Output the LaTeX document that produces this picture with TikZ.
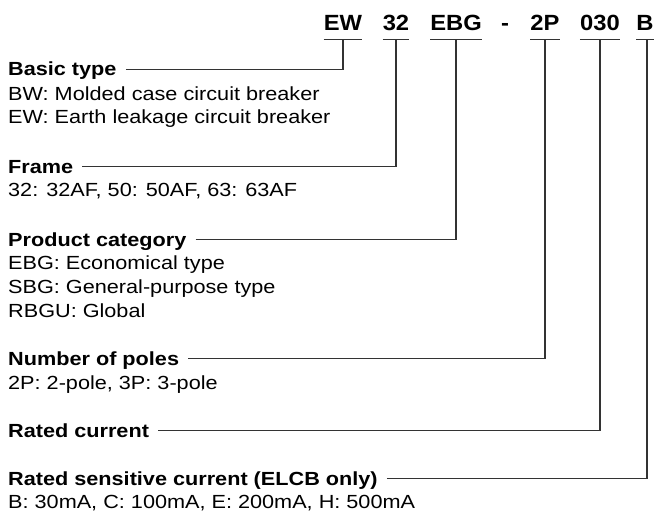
\documentclass[tikz,border=0pt]{standalone}
\usepackage{fontspec}
\setmainfont{Liberation Sans}[FakeStretch=1.14]
\newfontfamily\codefont{Liberation Sans}[FakeStretch=1.08]
\begin{document}
\begin{tikzpicture}[x=1pt,y=-1pt,
    head/.style={font=\fontsize{19}{24}\selectfont\bfseries,anchor=base west,inner sep=0pt,text height=13.5pt,text depth=0pt},
    desc/.style={font=\fontsize{19}{24}\selectfont,anchor=base west,inner sep=0pt},
    code/.style={font=\codefont\fontsize{22}{24}\selectfont\bfseries,anchor=base,inner sep=0pt,text depth=8pt},
    leader/.style={line width=1.2pt,draw=black!80}]
    \useasboundingbox (0,0) rectangle (654,511);
    % model code
    \node[code] (ew) at (343,31) {EW};
    \node[code] (fr) at (396,31) {32};
    \node[code] (cat) at (456,31) {EBG};
    \node[code] (dash) at (505,31) {-};
    \node[code] (pl) at (545,31) {2P};
    \node[code] (rc) at (600,31) {030};
    \node[code] (sc) at (645,31) {B};
    \draw[leader](ew.south west)--(ew.south east);
    \draw[leader](fr.south west)--(fr.south east);
    \draw[leader](cat.south west)--(cat.south east);
    \draw[leader](pl.south west)--(pl.south east);
    \draw[leader](rc.south west)--(rc.south east);
    \draw[leader](sc.south west)--(sc.south east);
    % headings
    \node[head] (basic) at (8,76) {Basic type};
    \node[desc] (bw) at (8,100) {BW: Molded case circuit breaker};
    \node[desc] (elcb) at (8,124) {EW: Earth leakage circuit breaker};
    \node[head] (frame) at (8,173) {Frame};
    \node[desc] (af) at (8,196) {32: 32AF, 50: 50AF, 63: 63AF};
    \node[head] (prod) at (8,246) {Product category};
    \node[desc] (ebg) at (8,269) {EBG: Economical type};
    \node[desc] (sbg) at (8,293) {SBG: General-purpose type};
    \node[desc] (rbgu) at (8,317) {RBGU: Global};
    \node[head] (poles) at (8,365) {Number of poles};
    \node[desc] (pp) at (8,389) {2P: 2-pole, 3P: 3-pole};
    \node[head] (rated) at (8,437) {Rated current};
    \node[head] (sens) at (8,485) {Rated sensitive current (ELCB only)};
    \node[desc] (ma) at (8,508) {B: 30mA, C: 100mA, E: 200mA, H: 500mA};
    % leaders
    \draw[leader]([xshift=9pt]basic.east)-|(ew.south);
    \draw[leader]([xshift=9pt]frame.east)-|(fr.south);
    \draw[leader]([xshift=9pt]prod.east)-|(cat.south);
    \draw[leader]([xshift=9pt]poles.east)-|(pl.south);
    \draw[leader]([xshift=9pt]rated.east)-|(rc.south);
    \draw[leader]([xshift=9pt]sens.east)-|([xshift=2pt]sc.south);
\end{tikzpicture}
\end{document}
